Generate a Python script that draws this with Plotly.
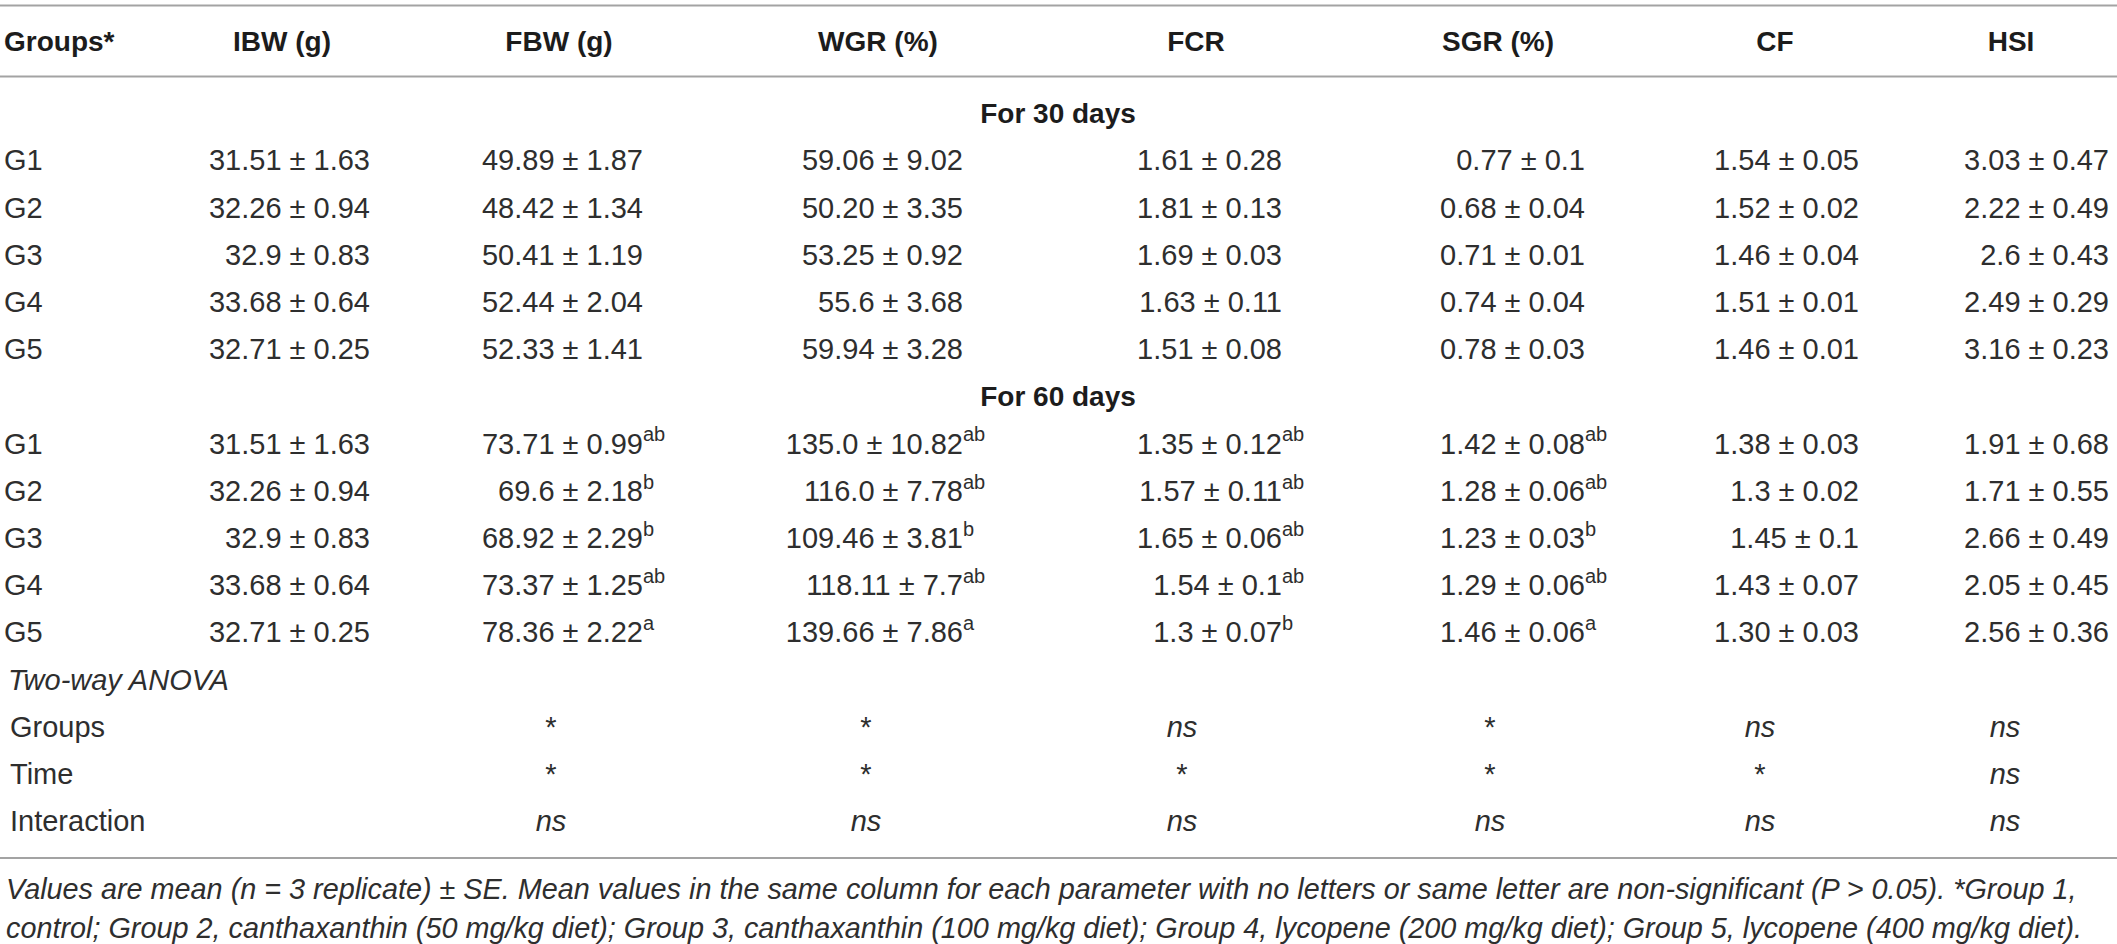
import plotly.graph_objects as go

# ---------------- data ----------------
groups = ["G1", "G2", "G3", "G4", "G5"]
columns = ["IBW (g)", "FBW (g)", "WGR (%)", "FCR", "SGR (%)", "CF", "HSI"]
first_header = "Groups*"
periods = ["For 30 days", "For 60 days"]

ibw_mean = ["31.51", "32.26", "32.9", "33.68", "32.71"]
ibw_se = ["1.63", "0.94", "0.83", "0.64", "0.25"]

# 30 days
fbw30_mean = ["49.89", "48.42", "50.41", "52.44", "52.33"]
fbw30_se = ["1.87", "1.34", "1.19", "2.04", "1.41"]
wgr30_mean = ["59.06", "50.20", "53.25", "55.6", "59.94"]
wgr30_se = ["9.02", "3.35", "0.92", "3.68", "3.28"]
fcr30_mean = ["1.61", "1.81", "1.69", "1.63", "1.51"]
fcr30_se = ["0.28", "0.13", "0.03", "0.11", "0.08"]
sgr30_mean = ["0.77", "0.68", "0.71", "0.74", "0.78"]
sgr30_se = ["0.1", "0.04", "0.01", "0.04", "0.03"]
cf30_mean = ["1.54", "1.52", "1.46", "1.51", "1.46"]
cf30_se = ["0.05", "0.02", "0.04", "0.01", "0.01"]
hsi30_mean = ["3.03", "2.22", "2.6", "2.49", "3.16"]
hsi30_se = ["0.47", "0.49", "0.43", "0.29", "0.23"]

# 60 days
fbw60_mean = ["73.71", "69.6", "68.92", "73.37", "78.36"]
fbw60_se = ["0.99", "2.18", "2.29", "1.25", "2.22"]
fbw60_sig = ["ab", "b", "b", "ab", "a"]
wgr60_mean = ["135.0", "116.0", "109.46", "118.11", "139.66"]
wgr60_se = ["10.82", "7.78", "3.81", "7.7", "7.86"]
wgr60_sig = ["ab", "ab", "b", "ab", "a"]
fcr60_mean = ["1.35", "1.57", "1.65", "1.54", "1.3"]
fcr60_se = ["0.12", "0.11", "0.06", "0.1", "0.07"]
fcr60_sig = ["ab", "ab", "ab", "ab", "b"]
sgr60_mean = ["1.42", "1.28", "1.23", "1.29", "1.46"]
sgr60_se = ["0.08", "0.06", "0.03", "0.06", "0.06"]
sgr60_sig = ["ab", "ab", "b", "ab", "a"]
cf60_mean = ["1.38", "1.3", "1.45", "1.43", "1.30"]
cf60_se = ["0.03", "0.02", "0.1", "0.07", "0.03"]
cf60_sig = ["", "", "", "", ""]
hsi60_mean = ["1.91", "1.71", "2.66", "2.05", "2.56"]
hsi60_se = ["0.68", "0.55", "0.49", "0.45", "0.36"]
hsi60_sig = ["", "", "", "", ""]
ibw_sig = ["", "", "", "", ""]

anova_title = "Two-way ANOVA"
anova_terms = ["Groups", "Time", "Interaction"]
anova_groups = ["", "*", "*", "ns", "*", "ns", "ns"]
anova_time = ["", "*", "*", "*", "*", "*", "ns"]
anova_interaction = ["", "ns", "ns", "ns", "ns", "ns", "ns"]

footnote_lines = [
    "Values are mean (n = 3 replicate) ± SE. Mean values in the same column for each parameter "
    "with no letters or same letter are non-significant (P > 0.05). *Group 1,",
    "control; Group 2, canthaxanthin (50 mg/kg diet); Group 3, canthaxanthin (100 mg/kg diet); "
    "Group 4, lycopene (200 mg/kg diet); Group 5, lycopene (400 mg/kg diet).",
]

# ---------------- layout constants ----------------
W, H = 2117, 944
FONT = "Liberation Sans, Arial, Helvetica, sans-serif"
BODY_SIZE = 29
HEAD_SIZE = 28
SUP_SIZE = 20
SUP_RAISE = 10
FOOT_SIZE = 28.8
BODY_COLOR = "#2e2e2e"
HEAD_COLOR = "#1c1c1c"
RULE_COLOR = "#a3a3a3"

ROW0 = 116.0      # pixel of row 0 ("For 30 days")
STEP = 47.2       # row pitch
HEADER_Y = 44.0
LABEL_X = 4
ANOVA_LABEL_X = 10
VALUE_RIGHT = [370, 643, 963, 1282, 1585, 1859, 2109]
HEADER_CENTER = [282, 559, 878, 1196, 1498, 1775, 2011]
MARK_CENTER = [282, 551, 866, 1182, 1490, 1760, 2005]
TABLE_CENTER = 1058
RULES_Y = [5.5, 76.5, 858]
FOOT_Y = [889, 928]


def row_y(k):
    return ROW0 + STEP * k


sections = [
    (periods[0], [ibw_mean, fbw30_mean, wgr30_mean, fcr30_mean, sgr30_mean, cf30_mean, hsi30_mean],
     [ibw_se, fbw30_se, wgr30_se, fcr30_se, sgr30_se, cf30_se, hsi30_se],
     [ibw_sig] * 7),
    (periods[1], [ibw_mean, fbw60_mean, wgr60_mean, fcr60_mean, sgr60_mean, cf60_mean, hsi60_mean],
     [ibw_se, fbw60_se, wgr60_se, fcr60_se, sgr60_se, cf60_se, hsi60_se],
     [ibw_sig, fbw60_sig, wgr60_sig, fcr60_sig, sgr60_sig, cf60_sig, hsi60_sig]),
]

fig = go.Figure()

# header row
fig.add_trace(go.Scatter(
    x=[LABEL_X], y=[HEADER_Y], mode="text", text=["<b>%s</b>" % first_header],
    textposition="middle right", textfont=dict(family=FONT, size=HEAD_SIZE, color=HEAD_COLOR),
    hoverinfo="skip", showlegend=False))
fig.add_trace(go.Scatter(
    x=HEADER_CENTER, y=[HEADER_Y] * len(columns), mode="text",
    text=["<b>%s</b>" % c for c in columns],
    textposition="middle center", textfont=dict(family=FONT, size=HEAD_SIZE, color=HEAD_COLOR),
    hoverinfo="skip", showlegend=False))

# body rows
sec_x, sec_y, sec_t = [], [], []
lab_x, lab_y, lab_t = [], [], []
val_x, val_y, val_t = [], [], []
sup_x, sup_y, sup_t = [], [], []
k = 0
for title, means, ses, sigs in sections:
    sec_x.append(TABLE_CENTER)
    sec_y.append(row_y(k))
    sec_t.append("<b>%s</b>" % title)
    k += 1
    for gi, g in enumerate(groups):
        lab_x.append(LABEL_X)
        lab_y.append(row_y(k))
        lab_t.append(g)
        for ci in range(len(columns)):
            val_x.append(VALUE_RIGHT[ci])
            val_y.append(row_y(k))
            val_t.append("%s ± %s" % (means[ci][gi], ses[ci][gi]))
            s = sigs[ci][gi]
            if s:
                sup_x.append(VALUE_RIGHT[ci])
                sup_y.append(row_y(k) - SUP_RAISE)
                sup_t.append(s)
        k += 1

# ANOVA block
anova_title_row = k
k += 1
mark_x, mark_y, mark_t = [], [], []
for term, marks in zip(anova_terms, [anova_groups, anova_time, anova_interaction]):
    lab_x.append(ANOVA_LABEL_X)
    lab_y.append(row_y(k))
    lab_t.append(term)
    for ci, m in enumerate(marks):
        if m:
            mark_x.append(MARK_CENTER[ci])
            mark_y.append(row_y(k))
            mark_t.append("<i>ns</i>" if m == "ns" else m)
    k += 1

body_font = dict(family=FONT, size=BODY_SIZE, color=BODY_COLOR)

fig.add_trace(go.Scatter(x=sec_x, y=sec_y, mode="text", text=sec_t, textposition="middle center",
                         textfont=dict(family=FONT, size=HEAD_SIZE, color=HEAD_COLOR),
                         hoverinfo="skip", showlegend=False))
fig.add_trace(go.Scatter(x=lab_x, y=lab_y, mode="text", text=lab_t, textposition="middle right",
                         textfont=body_font, hoverinfo="skip", showlegend=False))
fig.add_trace(go.Scatter(x=[ANOVA_LABEL_X - 2], y=[row_y(anova_title_row)], mode="text",
                         text=["<i>%s</i>" % anova_title], textposition="middle right",
                         textfont=body_font, hoverinfo="skip", showlegend=False))
fig.add_trace(go.Scatter(x=val_x, y=val_y, mode="text", text=val_t, textposition="middle left",
                         textfont=body_font, hoverinfo="skip", showlegend=False))
fig.add_trace(go.Scatter(x=sup_x, y=sup_y, mode="text", text=sup_t, textposition="middle right",
                         textfont=dict(family=FONT, size=SUP_SIZE, color=BODY_COLOR),
                         hoverinfo="skip", showlegend=False))
fig.add_trace(go.Scatter(x=mark_x, y=mark_y, mode="text", text=mark_t, textposition="middle center",
                         textfont=body_font, hoverinfo="skip", showlegend=False))

# horizontal rules
for ry in RULES_Y:
    fig.add_shape(type="line", xref="x", yref="y", x0=0, x1=W, y0=ry, y1=ry,
                  line=dict(color=RULE_COLOR, width=2))

# footnote
for line, fy in zip(footnote_lines, FOOT_Y):
    fig.add_annotation(x=4, y=fy, xref="x", yref="y", text="<i>%s</i>" % line,
                       showarrow=False, xanchor="left", yanchor="middle",
                       font=dict(family=FONT, size=FOOT_SIZE, color=BODY_COLOR))

fig.update_layout(
    width=W, height=H, margin=dict(l=0, r=0, t=0, b=0),
    paper_bgcolor="white", plot_bgcolor="white", showlegend=False, hovermode=False,
    xaxis=dict(range=[0, W], visible=False, fixedrange=True),
    yaxis=dict(range=[H, 0], visible=False, fixedrange=True),
)

fig.write_html("out.html", config={"displayModeBar": False},
               post_script="document.body.style.margin='0';")
